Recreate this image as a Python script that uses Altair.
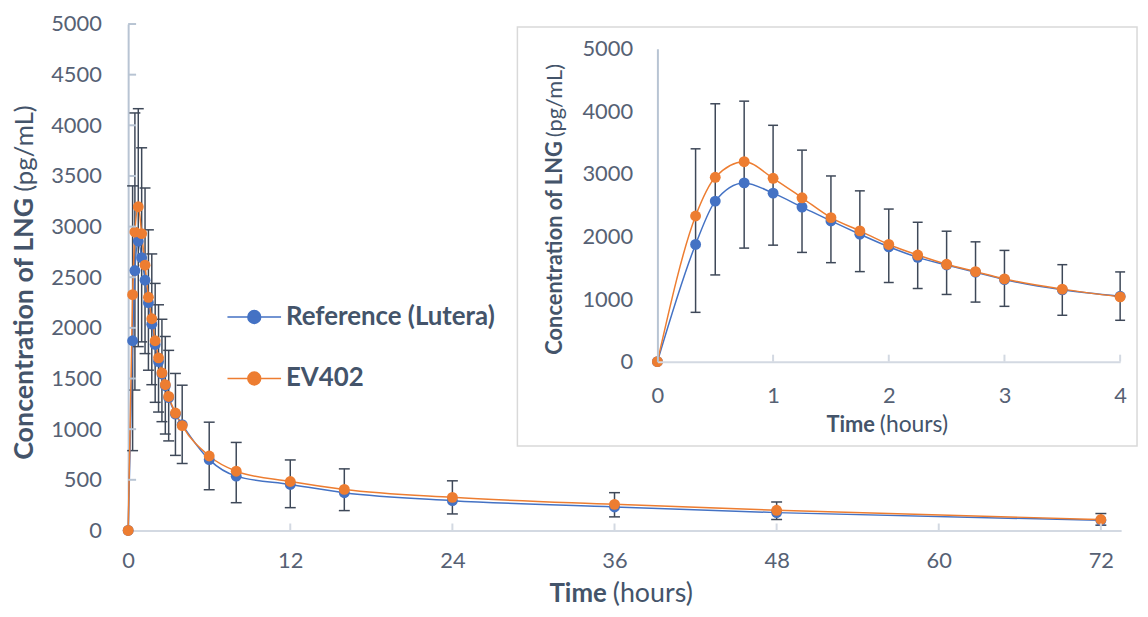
import altair as alt
import pandas as pd

# ---------------- data ----------------
times = [0, 0.33, 0.5, 0.75, 1, 1.25, 1.5, 1.75, 2, 2.25, 2.5, 2.75, 3, 3.5, 4,
         6, 8, 12, 16, 24, 36, 48, 72]
ref_conc = [0, 1873, 2566, 2857, 2693, 2471, 2249, 2037, 1836, 1667, 1545, 1429,
            1312, 1148, 1045, 699, 536, 454, 372, 294, 232, 176, 100]
ev_conc = [0, 2328, 2947, 3196, 2931, 2619, 2302, 2090, 1873, 1704, 1556, 1439,
           1323, 1159, 1035, 735, 585, 483, 405, 327, 258, 199, 108]
err_hi = [0, 3402, 4122, 4164, 3778, 3381, 2968, 2730, 2439, 2228, 2085, 1915,
          1778, 1550, 1434, 1069, 869, 696, 608, 490, 373, 281, 167]
err_lo = [0, 788, 1386, 1815, 1862, 1746, 1582, 1439, 1265, 1169, 1074, 952,
          884, 741, 661, 402, 274, 225, 196, 163, 134, 108, 52]

series_names = ["Reference (Lutera)", "EV402"]
series_colors = ["#4472c4", "#ed7d31"]

main_x_ticks = [0, 12, 24, 36, 48, 60, 72]
main_y_ticks = [0, 500, 1000, 1500, 2000, 2500, 3000, 3500, 4000, 4500, 5000]
inset_x_ticks = [0, 1, 2, 3, 4]
inset_y_ticks = [0, 1000, 2000, 3000, 4000, 5000]

# ---------------- tables ----------------
rows = []
for name, vals in zip(series_names, [ref_conc, ev_conc]):
    for t, v in zip(times, vals):
        rows.append({"series": name, "t": t, "conc": v})
df = pd.DataFrame(rows)
err = pd.DataFrame({"t": times, "hi": err_hi, "lo": err_lo})
err = err[err.t > 0]
inset_df = df[df.t <= 4]
inset_err = err[err.t <= 4]
one = pd.DataFrame({"a": [0]})

# ---------------- style ----------------
W, H = 1000, 510
FONT = "Lato"
LABEL_C = "#566174"
TITLE_C = "#44546a"
ERR_C = "#3e4858"
AXIS_Y_C = "#b8c4d3"
AXIS_X_C = "#d3d9e2"

main_x_scale = alt.Scale(domain=[0, 73.5], nice=False, zero=False)
main_y_scale = alt.Scale(domain=[0, 5000], nice=False)
inset_x_scale = alt.Scale(domain=[0, 4], range=[533, 999], nice=False, zero=False)
inset_y_scale = alt.Scale(domain=[0, 5000], range=[340, 25], nice=False)

common_axis = dict(title=None, grid=False, ticks=False, tickSize=0,
                   labelFont=FONT, labelFontSize=22, labelColor=LABEL_C,
                   labelFlush=False, format="d", domainWidth=2)

main_x_axis = alt.Axis(values=main_x_ticks, labelPadding=20,
                       domainColor=AXIS_X_C, **common_axis)
main_y_axis = alt.Axis(values=main_y_ticks, labelPadding=27,
                       domainColor=AXIS_Y_C, **common_axis)
inset_x_axis = alt.Axis(values=inset_x_ticks, labelPadding=24,
                        domainColor=AXIS_X_C, orient="bottom", offset=-170,
                        zindex=2, **common_axis)
inset_y_axis = alt.Axis(values=inset_y_ticks, labelPadding=25,
                        domainColor=AXIS_Y_C, orient="left", offset=-533,
                        zindex=2, **common_axis)


def mx(f):
    return alt.X(f"{f}:Q", scale=main_x_scale, axis=main_x_axis)


def my(f):
    return alt.Y(f"{f}:Q", scale=main_y_scale, axis=main_y_axis)


def ix(f):
    return alt.X(f"{f}:Q", scale=inset_x_scale, axis=inset_x_axis)


def iy(f):
    return alt.Y(f"{f}:Q", scale=inset_y_scale, axis=inset_y_axis)


legend_symbol = ("M-1,0L1,0M0.24,0A0.24,0.24,0,1,1,-0.24,0"
                 "A0.24,0.24,0,1,1,0.24,0Z")
legend = alt.Legend(orient="none", legendX=99, legendY=267, title=None,
                    symbolType=legend_symbol, symbolSize=2916,
                    symbolStrokeWidth=1.5, labelFont=FONT, labelFontSize=26,
                    labelFontWeight="bold", labelColor=TITLE_C, labelOffset=4,
                    labelLimit=0, rowPadding=21, padding=0)
color = alt.Color("series:N", scale=alt.Scale(domain=series_names,
                                              range=series_colors),
                  legend=legend)

# ---------------- main chart ----------------
m_err = alt.Chart(err).mark_rule(color=ERR_C, strokeWidth=1.5).encode(
    x=mx("t"), y=my("hi"), y2="lo:Q")
m_cap_hi = alt.Chart(err).mark_rule(color=ERR_C, strokeWidth=1.5,
                                    xOffset=-5.5, x2Offset=5.5).encode(
    x=mx("t"), x2="t:Q", y=my("hi"))
m_cap_lo = alt.Chart(err).mark_rule(color=ERR_C, strokeWidth=1.5,
                                    xOffset=-5.5, x2Offset=5.5).encode(
    x=mx("t"), x2="t:Q", y=my("lo"))
m_line = alt.Chart(df).mark_line(interpolate="monotone", strokeWidth=1.5).encode(
    x=mx("t"), y=my("conc"), color=color)
m_pts = alt.Chart(df).mark_point(filled=True, size=120, opacity=1).encode(
    x=mx("t"), y=my("conc"), color=color)
m_xt = alt.Chart(pd.DataFrame({"v": main_x_ticks[1:]})).mark_rule(
    color=AXIS_X_C, strokeWidth=2).encode(
    x=mx("v"), y=alt.value(H - 7), y2=alt.value(H))
m_yt = alt.Chart(pd.DataFrame({"v": main_y_ticks[1:]})).mark_rule(
    color=AXIS_Y_C, strokeWidth=2).encode(
    y=my("v"), x=alt.value(0), x2=alt.value(8))


def txt(s, x, y, size, weight, align, angle=0):
    kw = dict(text=s, font=FONT, fontSize=size, fontWeight=weight,
              color=TITLE_C, align=align, baseline="alphabetic")
    if angle:
        kw["angle"] = angle
    return alt.Chart(one).mark_text(**kw).encode(x=alt.value(x), y=alt.value(y))


titles = [
    txt("Concentration of LNG", -96, 175, 27, "bold", "right", 270),
    txt("(pg/mL)", -96, 169, 26, "normal", "left", 270),
    txt("Time", 482, 582, 26, "bold", "right"),
    txt("(hours)", 488, 582, 27, "normal", "left"),
    txt("Concentration of LNG", 437, 118, 22, "bold", "right", 270),
    txt("(pg/mL)", 437, 114, 22, "normal", "left", 270),
    txt("Time", 752, 411, 22, "bold", "right"),
    txt("(hours)", 757, 411, 23, "normal", "left"),
]

main = alt.layer(m_err, m_cap_hi, m_cap_lo, m_line, m_pts, m_xt, m_yt)

# ---------------- inset ----------------
box = alt.Chart(one).mark_rect(fill="white", stroke="#d9d9d9",
                               strokeWidth=1.5).encode(
    x=alt.value(392), x2=alt.value(1016), y=alt.value(3), y2=alt.value(425))
i_err = alt.Chart(inset_err).mark_rule(color=ERR_C, strokeWidth=1.5).encode(
    x=ix("t"), y=iy("hi"), y2="lo:Q")
i_cap_hi = alt.Chart(inset_err).mark_rule(color=ERR_C, strokeWidth=1.5,
                                          xOffset=-5, x2Offset=5).encode(
    x=ix("t"), x2="t:Q", y=iy("hi"))
i_cap_lo = alt.Chart(inset_err).mark_rule(color=ERR_C, strokeWidth=1.5,
                                          xOffset=-5, x2Offset=5).encode(
    x=ix("t"), x2="t:Q", y=iy("lo"))
i_line = alt.Chart(inset_df).mark_line(interpolate="monotone",
                                       strokeWidth=1.5).encode(
    x=ix("t"), y=iy("conc"), color=color)
i_pts = alt.Chart(inset_df).mark_point(filled=True, size=120, opacity=1).encode(
    x=ix("t"), y=iy("conc"), color=color)
i_xt = alt.Chart(pd.DataFrame({"v": inset_x_ticks[1:]})).mark_rule(
    color=AXIS_X_C, strokeWidth=2).encode(
    x=ix("v"), y=alt.value(333), y2=alt.value(340))

inset = alt.layer(box, i_err, i_cap_hi, i_cap_lo, i_line, i_pts, i_xt)

chart = alt.layer(main, inset, *titles).resolve_scale(
    x="independent", y="independent"
).properties(
    width=W, height=H,
    autosize=alt.AutoSizeParams(type="none"),
    padding={"left": 121, "top": 14, "right": 19, "bottom": 81},
).configure_view(stroke=None)

chart.save("out.html", embed_options={"renderer": "svg", "actions": False})
